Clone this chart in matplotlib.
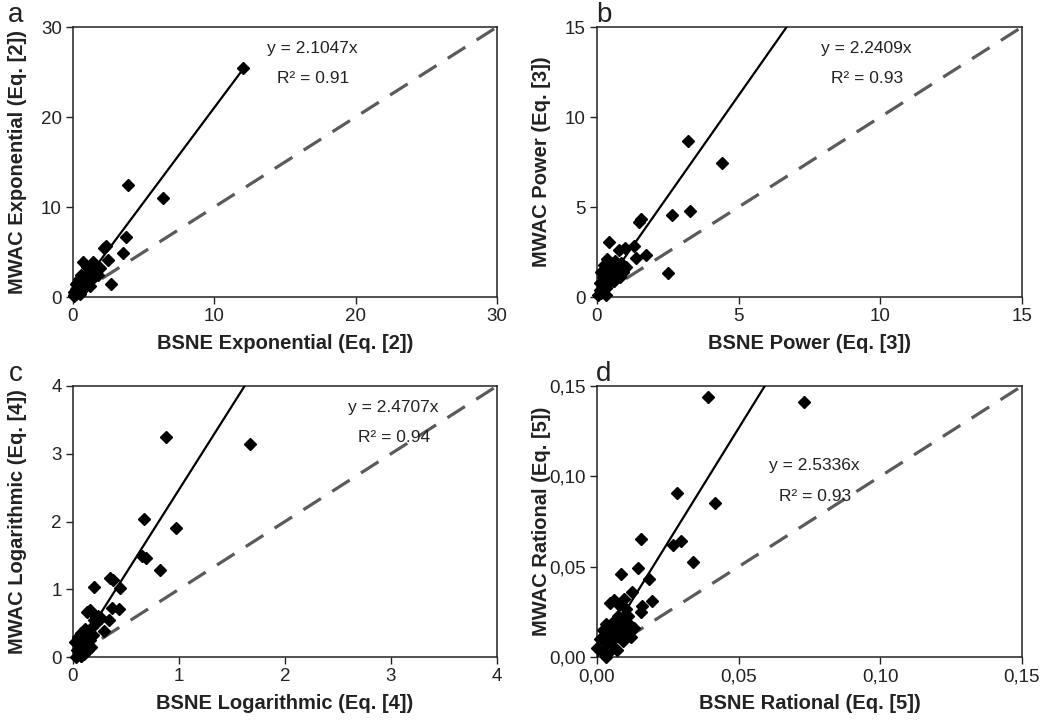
import matplotlib
matplotlib.use("Agg")
import matplotlib.pyplot as plt
import numpy as np

plt.rcParams['font.family'] = ['Liberation Sans', 'DejaVu Sans']

# ---------------- data ----------------
a_x = [12.0, 3.9, 6.36, 3.78, 3.54, 2.37, 2.2, 2.49, 2.72, 0.73, 1.43, 1.0,
       0.1, 0.15, 0.2, 0.25, 0.3, 0.3, 0.35, 0.4, 0.45, 0.5, 0.5, 0.55, 0.6, 0.6,
       0.7, 0.7, 0.8, 0.8, 0.9, 0.9, 1.0, 1.0, 1.1, 1.2, 1.3, 1.4, 1.5, 1.6, 1.8,
       1.9, 0.2, 0.4, 0.05, 0.1, 0.2, 0.6, 1.2, 0.3]
a_y = [25.4, 12.5, 11.0, 6.7, 4.9, 5.7, 5.5, 4.1, 1.43, 3.9, 3.9, 3.3,
       0.2, 0.5, 0.3, 0.8, 0.4, 1.0, 0.6, 1.2, 0.9, 0.3, 1.5, 1.1, 0.7, 1.8,
       1.3, 2.2, 1.0, 1.6, 2.0, 2.6, 1.4, 2.3, 1.8, 2.5, 2.0, 2.8, 2.2, 3.0, 2.4,
       3.2, 1.4, 2.0, 0.1, 0.6, 0.9, 2.5, 1.2, 1.6]

b_x = [3.21, 4.42, 1.56, 1.49, 2.65, 3.27, 0.42, 2.5, 1.72, 1.36, 0.98, 0.78,
       1.29, 1.01, 0.95,
       0.05, 0.1, 0.1, 0.15, 0.2, 0.2, 0.25, 0.3, 0.3, 0.35, 0.4, 0.4, 0.45, 0.5,
       0.5, 0.55, 0.6, 0.6, 0.65, 0.7, 0.75, 0.8, 0.85, 0.9, 0.15, 0.25, 0.35,
       0.2, 0.3]
b_y = [8.69, 7.46, 4.31, 4.17, 4.54, 4.79, 3.06, 1.31, 2.35, 2.19, 2.71, 2.6,
       2.85, 1.67, 1.55,
       0.1, 0.4, 0.8, 0.2, 0.6, 1.1, 0.9, 1.4, 0.5, 1.2, 0.8, 1.7, 1.0, 1.5,
       1.9, 1.2, 0.9, 1.7, 2.0, 1.3, 1.6, 1.1, 1.9, 1.4, 1.4, 1.8, 2.1,
       0.3, 0.1]

c_x = [0.88, 1.67, 0.67, 0.97, 0.65, 0.69, 0.82, 0.35, 0.38, 0.2, 0.44, 0.43,
       0.34, 0.29, 0.13, 0.16, 0.22, 0.37, 0.04, 0.08,
       0.02, 0.04, 0.05, 0.06, 0.07, 0.08, 0.09, 0.1, 0.11, 0.12, 0.13, 0.14,
       0.15, 0.16, 0.17, 0.18, 0.2, 0.22, 0.24, 0.26, 0.19, 0.03, 0.1, 0.08]
c_y = [3.24, 3.15, 2.03, 1.91, 1.49, 1.46, 1.28, 1.16, 1.13, 1.03, 1.02, 0.71,
       0.54, 0.38, 0.67, 0.70, 0.59, 0.72, 0.23, 0.02,
       0.22, 0.1, 0.3, 0.05, 0.18, 0.35, 0.12, 0.25, 0.42, 0.2, 0.3, 0.1,
       0.38, 0.25, 0.15, 0.45, 0.55, 0.5, 0.6, 0.58, 0.32, 0.0, 0.05, 0.02]

d_x = [0.039, 0.073, 0.0283, 0.0416, 0.0155, 0.0268, 0.0296, 0.034, 0.0086,
       0.0145, 0.0185, 0.0123, 0.0195, 0.0158, 0.0155, 0.013, 0.0059, 0.0078,
       0.0102, 0.0108, 0.0094, 0.0074, 0.0047,
       0.001, 0.002, 0.002, 0.003, 0.003, 0.004, 0.004, 0.005, 0.005, 0.006,
       0.006, 0.007, 0.007, 0.008, 0.009, 0.009, 0.01, 0.011, 0.012, 0.003, 0.0]
d_y = [0.144, 0.141, 0.0905, 0.0853, 0.0652, 0.0621, 0.0642, 0.0524, 0.0462,
       0.0491, 0.0429, 0.0362, 0.031, 0.028, 0.0248, 0.0159, 0.0317, 0.029,
       0.0263, 0.0228, 0.032, 0.0228, 0.03,
       0.01, 0.003, 0.015, 0.008, 0.018, 0.012, 0.002, 0.016, 0.006, 0.01,
       0.02, 0.013, 0.004, 0.017, 0.009, 0.022, 0.014, 0.019, 0.011, 0.0, 0.005]

slopes = [2.1047, 2.2409, 2.4707, 2.5336]
r2 = [0.91, 0.93, 0.94, 0.93]
fit_end = [12.0, 7.0, 2.0, 0.07]
axis_max = [30, 15, 4, 0.15]
ticks = [[0, 10, 20, 30], [0, 5, 10, 15], [0, 1, 2, 3, 4], [0, 0.05, 0.10, 0.15]]
tick_labels = [["0", "10", "20", "30"], ["0", "5", "10", "15"],
               ["0", "1", "2", "3", "4"], ["0,00", "0,05", "0,10", "0,15"]]
xlabels = ["BSNE Exponential (Eq. [2])", "BSNE Power (Eq. [3])",
           "BSNE Logarithmic (Eq. [4])", "BSNE Rational (Eq. [5])"]
ylabels = ["MWAC Exponential (Eq. [2])", "MWAC Power (Eq. [3])",
           "MWAC Logarithmic (Eq. [4])", "MWAC Rational (Eq. [5])"]
panel_letters = ["a", "b", "c", "d"]
eq_pos = [(0.564, 0.922), (0.633, 0.922), (0.755, 0.922), (0.511, 0.705)]

xs = [a_x, b_x, c_x, d_x]
ys = [a_y, b_y, c_y, d_y]

# ---------------- figure ----------------
fig = plt.figure(figsize=(10.64, 7.2), dpi=100)
W, H = 1064, 720
boxes = [(73, 27, 497, 297), (597, 27, 1022, 297),
         (73, 386, 497, 657), (597, 386, 1022, 657)]
letter_pos = [(16, 15), (604, 15), (16, 374), (604, 374)]

for i in range(4):
    l, t, r, b = boxes[i]
    ax = fig.add_axes([l / W, 1 - b / H, (r - l) / W, (b - t) / H])
    m = axis_max[i]
    ax.set_xlim(0, m)
    ax.set_ylim(0, m)
    # 1:1 line
    ax.plot([0, m], [0, m], color='#5a5a5a', lw=2.3, dashes=(6.5, 4.2),
            zorder=2, solid_capstyle='butt')
    # fit line
    xe = fit_end[i]
    ax.plot([0, xe], [0, slopes[i] * xe], color='black', lw=1.6, zorder=3)
    # data
    ax.plot(xs[i], ys[i], linestyle='none', marker='D', ms=6.0,
            color='black', mec='black', zorder=4, clip_on=False)
    ax.set_xticks(ticks[i])
    ax.set_xticklabels(tick_labels[i])
    ax.set_yticks(ticks[i])
    ax.set_yticklabels(tick_labels[i])
    ax.tick_params(direction='out', length=5, width=1, labelsize=13.5,
                   top=False, right=False, pad=3, colors='#222222',
                   labelcolor='#222222')
    for s in ax.spines.values():
        s.set_linewidth(1.1)
        s.set_color('#222222')
    ax.set_xlabel(xlabels[i], fontsize=14.5, fontweight='bold', color='#222222')
    ax.set_ylabel(ylabels[i], fontsize=14.5, fontweight='bold', color='#222222')
    ax.xaxis.set_label_coords(0.5, -37 / (b - t))
    ax.yaxis.set_label_coords(-46 / (r - l), 0.5)
    ex, ey = eq_pos[i]
    ax.text(ex, ey, "y = %.4fx" % slopes[i], transform=ax.transAxes,
            ha='center', va='center', fontsize=12.5, color='#222222')
    ax.text(ex + 0.002, ey - 0.111, "R\u00b2 = %.2f" % r2[i], transform=ax.transAxes,
            ha='center', va='center', fontsize=12.5, color='#222222')
    lx, ly = letter_pos[i]
    fig.text(lx / W, 1 - ly / H, panel_letters[i], ha='center', va='center',
             fontsize=20, color='#222222')

fig.savefig("out.png", dpi=100)
